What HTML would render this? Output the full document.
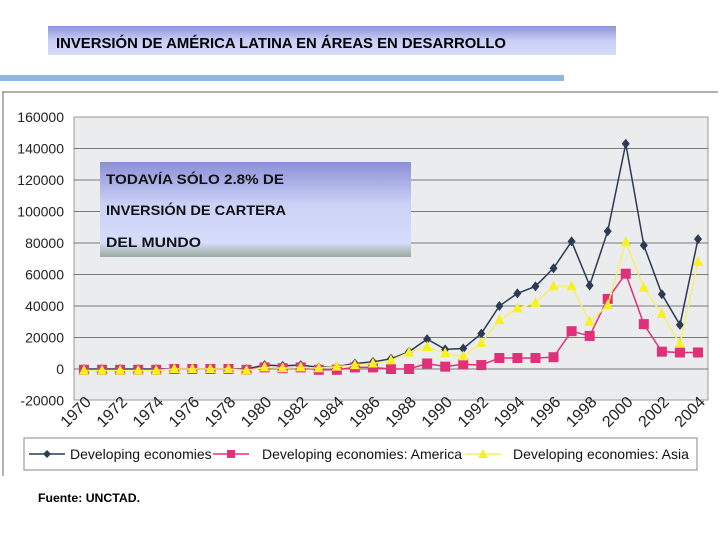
<!DOCTYPE html>
<html><head><meta charset="utf-8"><style>
body{margin:0;width:720px;height:540px;background:#fff;overflow:hidden;font-family:"Liberation Sans",sans-serif}
</style></head><body>
<svg width="720" height="540" xmlns="http://www.w3.org/2000/svg">
<defs>
<linearGradient id="tg" x1="0" y1="0" x2="0" y2="1"><stop offset="0" stop-color="#8f92d8"/><stop offset="0.5" stop-color="#c8cef6"/><stop offset="1" stop-color="#d8dcfa"/></linearGradient>
<linearGradient id="bg" x1="0" y1="0" x2="0" y2="1"><stop offset="0" stop-color="#8c8fd6"/><stop offset="0.45" stop-color="#ccd2f7"/><stop offset="0.85" stop-color="#d6dcfa"/><stop offset="1" stop-color="#9aab9e"/></linearGradient>
</defs>
<rect x="48" y="26" width="568" height="29" fill="url(#tg)"/>
<text x="56" y="48" font-size="15" font-weight="bold" textLength="450" lengthAdjust="spacingAndGlyphs" fill="#000">INVERSIÓN DE  AMÉRICA LATINA EN ÁREAS EN DESARROLLO</text>
<rect x="0" y="75" width="564" height="6" fill="#8fb6dc"/>
<line x1="2" y1="92" x2="718" y2="92" stroke="#666" stroke-width="1"/>
<line x1="3" y1="92" x2="3" y2="476" stroke="#666" stroke-width="1"/>
<rect x="74" y="117" width="634" height="283" fill="#eaeced" stroke="#999"/>
<g id="grid"></g>
<g id="axes"></g>
<g id="series"></g>
<rect x="100" y="162" width="311" height="95" fill="url(#bg)"/>
<g font-size="14" font-weight="bold" fill="#111">
<text x="106" y="184" textLength="178" lengthAdjust="spacingAndGlyphs">TODAVÍA SÓLO 2.8% DE</text>
<text x="106" y="215" textLength="180" lengthAdjust="spacingAndGlyphs">INVERSIÓN DE CARTERA</text>
<text x="106" y="247" textLength="95" lengthAdjust="spacingAndGlyphs">DEL MUNDO</text>
</g>
<rect x="24" y="438" width="673" height="32" fill="#fff" stroke="#888"/>
<g font-size="14" fill="#111">
<g><line x1="29" y1="454" x2="65" y2="454" stroke="#2b3a55" stroke-width="1.5"/><path d="M47 450 L51 454 L47 458 L43 454Z" fill="#2b3a55"/><text x="70" y="459">Developing economies</text></g>
<g><line x1="213" y1="454" x2="249" y2="454" stroke="#e0307a" stroke-width="1.5"/><rect x="227" y="450" width="8" height="8" fill="#e0307a"/><text x="262" y="459">Developing economies: America</text></g>
<g><line x1="465" y1="454" x2="501" y2="454" stroke="#f0f060" stroke-width="1.5"/><path d="M483 449 L488 458 L478 458Z" fill="#f8f020"/><text x="513" y="459">Developing economies: Asia</text></g>
</g>
<text x="38" y="502" font-size="12" font-weight="bold" fill="#000" textLength="102" lengthAdjust="spacingAndGlyphs">Fuente: UNCTAD.</text>
</svg>
<script>
const years=[];for(let y=1970;y<=2004;y++)years.push(y);
const yTicks=[-20000,0,20000,40000,60000,80000,100000,120000,140000,160000];
const developing=[0,0,0,0,0,0,0,0,0,0,2500,2000,2500,1000,1500,3500,4500,6500,11000,19000,12500,13000,22500,40000,48000,52500,64000,81000,53000,87500,143000,78500,47500,28000,82500];
const america=[-500,-500,-500,-500,-500,0,0,0,0,-500,1000,500,1000,-500,-500,1000,1000,0,0,3500,1500,3000,2500,7000,7000,7000,7500,24000,21000,44500,60500,28500,11000,10500,10500];
const asia=[-1000,-1000,-1000,-1000,-1000,0,0,0,0,-1000,1000,500,1000,500,1500,2500,3500,5500,10500,14000,10000,8000,16500,31000,38500,42000,52500,52500,30000,40500,80500,51500,35000,16000,68000];
const NS="http://www.w3.org/2000/svg";
const X=i=>84+i*(698-84)/(years.length-1);
const Y=v=>369-v*(252/160000);
function mk(t,a,p){const e=document.createElementNS(NS,t);for(const k in a)e.setAttribute(k,a[k]);p.appendChild(e);return e;}
const grid=document.getElementById('grid'),axes=document.getElementById('axes'),ser=document.getElementById('series');
yTicks.forEach(v=>{
 if(v>-20000&&v<160000){const l=mk('line',{x1:74,x2:708,y1:Y(v),y2:Y(v),stroke:'#555','stroke-width':0.8},grid);
 
 }
 const t=mk('text',{x:64,y:Y(v)+5,'text-anchor':'end','font-size':14,fill:'#222'},axes);t.textContent=v;
 
 
});
years.forEach((yr,i)=>{
 if(i%2==0){const t=mk('text',{x:X(i)+8,y:403,'text-anchor':'end','font-size':16,fill:'#222',transform:`rotate(-45 ${X(i)+8} 403)`},axes);t.textContent=yr;
 
 }
});
function line(data,color,marker,name){
 const g=mk('g',{},ser);
 
 
 mk('polyline',{points:data.map((v,i)=>X(i)+','+Y(v)).join(' '),fill:'none',stroke:color,'stroke-width':1.5},g);
 data.forEach((v,i)=>{const x=X(i),y=Y(v);let m;
  if(marker=='d')m=mk('path',{d:`M${x} ${y-5}L${x+4} ${y}L${x} ${y+5}L${x-4} ${y}Z`,fill:color},g);
  else if(marker=='s')m=mk('rect',{x:x-5,y:y-5,width:10,height:10,fill:color},g);
  else m=mk('path',{d:`M${x} ${y-6}L${x+5} ${y+4}L${x-5} ${y+4}Z`,fill:'#f8f020'},g);
  
  
 });
}
line(developing,'#2b3a55','d','series-developing');
line(america,'#e0307a','s','series-america');
line(asia,'#f4f070','t','series-asia');
</script>
</body></html>
